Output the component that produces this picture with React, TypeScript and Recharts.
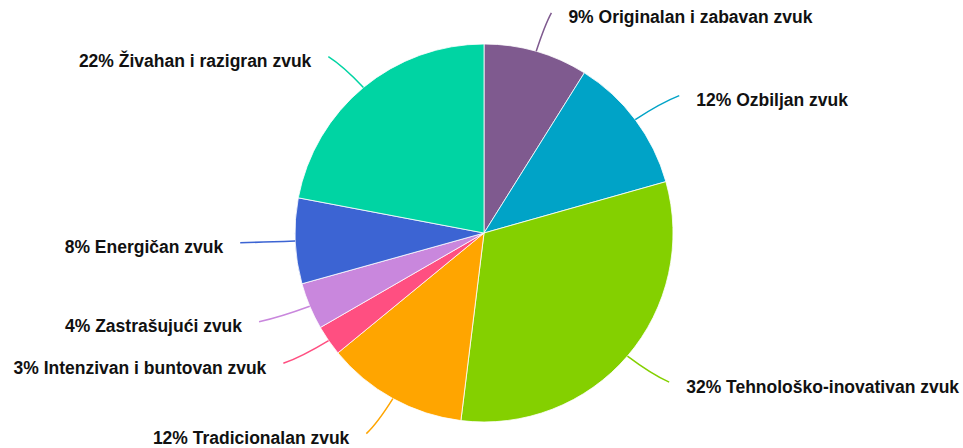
import React from "react";
import { PieChart, Pie, Cell } from "recharts";

const categories = [
  "Originalan i zabavan zvuk",
  "Ozbiljan zvuk",
  "Tehnološko-inovativan zvuk",
  "Tradicionalan zvuk",
  "Intenzivan i buntovan zvuk",
  "Zastrašujući zvuk",
  "Energičan zvuk",
  "Živahan i razigran zvuk",
];
const values = [8.9, 11.7, 31.3, 12.1, 2.6, 4.0, 7.3, 22.0];
const percentLabels = ["9%", "12%", "32%", "12%", "3%", "4%", "8%", "22%"];
const colors = [
  "#7f5a8f",
  "#00a3c7",
  "#84d000",
  "#ffa500",
  "#ff4f81",
  "#c987dd",
  "#3c64d3",
  "#00d4a3",
];

const data = categories.map((name, i) => ({ name, value: values[i], pct: percentLabels[i] }));

const RAD = Math.PI / 180;

const renderLabel = (props: any) => {
  const { cx, cy, midAngle, outerRadius, index } = props;
  const c = Math.cos(midAngle * RAD);
  const s = Math.sin(midAngle * RAD);
  const x0 = cx + outerRadius * c;
  const y0 = cy - outerRadius * s;
  const x1 = cx + (outerRadius + 32) * c;
  const y1 = cy - (outerRadius + 28) * s;
  const x2 = cx + (outerRadius + 55) * c;
  const y2 = cy - (outerRadius + 40) * s;
  const right = c >= 0;
  const tx = x2 + (right ? 17 : -17);
  const ty = y2 + 10.5;
  return (
    <g key={`lbl-${index}`}>
      <path
        d={`M${x0},${y0} Q${x1},${y1} ${x2},${y2}`}
        stroke={colors[index]}
        strokeWidth={1.5}
        fill="none"
      />
      <text
        x={tx}
        y={ty}
        textAnchor={right ? "start" : "end"}
        fill="#111"
        fontSize={17.5}
        fontWeight="bold"
        fontFamily="'Liberation Sans', Arial, sans-serif"
      >
        {`${percentLabels[index]} ${categories[index]}`}
      </text>
    </g>
  );
};

export default function App() {
  return (
    <div style={{ position: "absolute", left: 0, top: 0, width: 963, height: 448, background: "#fff" }}>
      <PieChart width={963} height={448} margin={{ top: 0, right: 0, bottom: 0, left: 0 }}>
        <Pie
          data={data}
          dataKey="value"
          nameKey="name"
          cx={484}
          cy={233}
          outerRadius={189}
          startAngle={90}
          endAngle={-270}
          stroke="#ffffff"
          strokeWidth={0.8}
          label={renderLabel}
          labelLine={false}
          isAnimationActive={false}
        >
          {data.map((d, i) => (
            <Cell key={d.name} fill={colors[i]} />
          ))}
        </Pie>
      </PieChart>
    </div>
  );
}
